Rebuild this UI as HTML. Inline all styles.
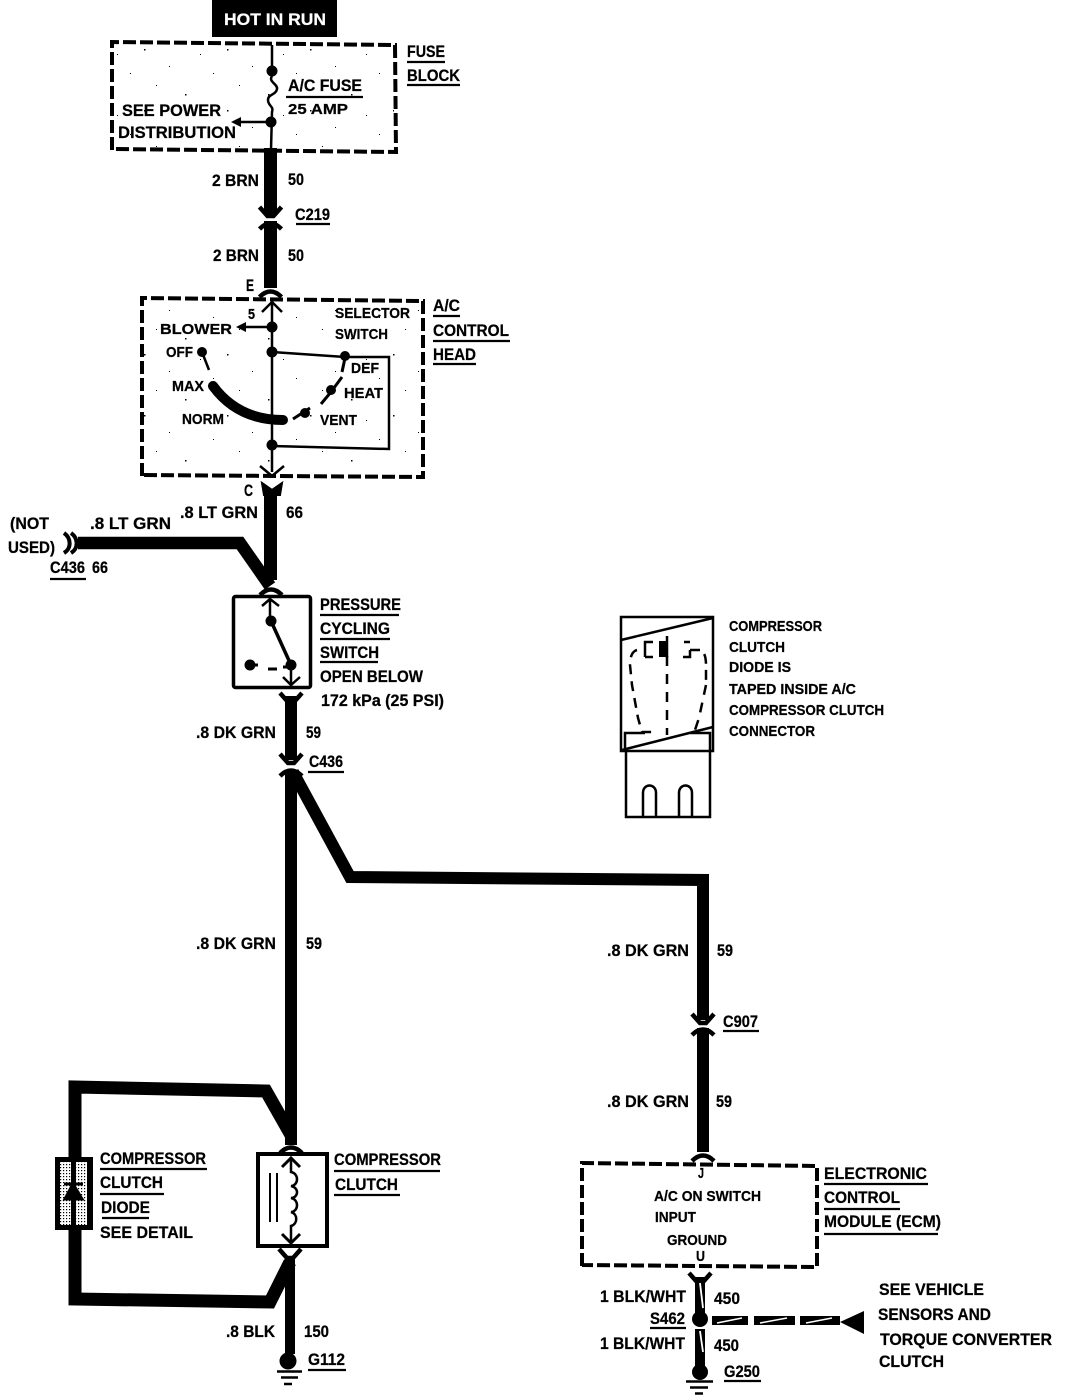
<!DOCTYPE html>
<html><head><meta charset="utf-8"><style>
html,body{margin:0;padding:0;background:#fff}
svg{display:block}
text{font-family:"Liberation Sans",sans-serif;font-weight:700;font-size:17px;fill:#000;stroke:#000;stroke-width:.25}
.s{font-size:15px}
</style></head><body>
<svg width="1072" height="1396" viewBox="0 0 1072 1396" xmlns="http://www.w3.org/2000/svg">
<defs>
<pattern id="st" width="83" height="61" patternUnits="userSpaceOnUse">
<rect x="3" y="5" width="1" height="1"/><rect x="19" y="33" width="1.500" height="1.500"/><rect x="47" y="12" width="1" height="1"/><rect x="61" y="49" width="1.500" height="1.500"/><rect x="73" y="24" width="1" height="1"/><rect x="34" y="54" width="1" height="1"/>
</pattern>
<pattern id="dg" width="3" height="3" patternUnits="userSpaceOnUse"><rect width="3" height="3" fill="#fff"/><rect width="1.200" height="1.200" fill="#000"/></pattern>
<path id="up" d="M-11 5 Q0 -6 11 5" fill="none" stroke="#000" stroke-width="4.500"/>
<path id="dn" d="M-11 -5 L-3 4 L3 4 L11 -5" fill="none" stroke="#000" stroke-width="4.500"/>
</defs>

<rect x="212" y="0" width="125" height="37" fill="#000"/>
<text x="224" y="25" textLength="102" lengthAdjust="spacingAndGlyphs" style="fill:#fff;stroke:#fff">HOT IN RUN</text>

<!-- stipple areas -->
<rect x="113" y="45" width="281" height="105" fill="url(#st)"/>
<rect x="143" y="300" width="279" height="175" fill="url(#st)"/>

<!-- dashed boxes -->
<g fill="none" stroke="#000" stroke-width="4" stroke-dasharray="13 4">
<path d="M112 150 L112 42 L395 45 L396 152 L112 149"/>
<path d="M142 476 L142 298 L423 301 L423 477 L142 475"/>
<path d="M582 1266 L582 1163 L817 1166 L817 1267 L582 1265"/>
</g>

<!-- fuse block internals -->
<g fill="none" stroke="#000" stroke-width="2.500">
<path d="M272 45 V71"/>
<path d="M272 76 C268 82 278 84 277 89 C276 95 268 94 268 100 C268 106 274 106 272 112 L271 150"/>
<path d="M271 122 H236"/>
</g>
<circle cx="272" cy="71" r="5.500"/><circle cx="271" cy="122" r="5.500"/>
<path d="M231 122 L241 117 L241 127 Z"/>

<!-- main wire top -->
<rect x="264" y="148" width="13" height="66"/>
<use href="#dn" x="270.500" y="212"/>
<use href="#up" x="270.500" y="224"/>
<rect x="264" y="221" width="13" height="67"/>
<use href="#up" x="270.500" y="292"/>

<!-- control head -->
<g fill="none" stroke="#000" stroke-width="2.500">
<path d="M272 300 V420"/>
<path d="M262 312 L272 302 L282 312"/>
<path d="M272 327 H240"/>
<path d="M272 352 L345 357 H389 V449 L272 446"/>
<path d="M272 420 V472"/>
<path d="M202 352 L209 370"/>
<path d="M345 358 L342 372 M342 377 L331 392 L321 404 M310 408 L293 419" stroke-width="3"/>
<path d="M260 466 L272 476 L284 466"/>
</g>
<path d="M236 327 L246 322 L246 332 Z"/>
<circle cx="272" cy="327" r="5.500"/><circle cx="272" cy="352" r="5.500"/><circle cx="345" cy="356" r="5"/>
<circle cx="272" cy="445" r="5.500"/><circle cx="202" cy="352" r="5"/><circle cx="331" cy="390" r="5"/><circle cx="305" cy="413" r="5"/>
<path d="M213 386 Q238 420 283 420" fill="none" stroke="#000" stroke-width="10" stroke-linecap="round"/>
<path d="M262 483 L272 490 L282 483 L280 495 H264 Z" stroke="#000" stroke-width="2"/>

<rect x="264" y="490" width="13" height="90"/>
<!-- not used branch -->
<path d="M78 543 H240 L270 586" fill="none" stroke="#000" stroke-width="12.500"/>
<path d="M64 533 C71 538 72 548 64 553 M71 533 C78 538 79 548 71 553" fill="none" stroke="#000" stroke-width="4"/>
<use href="#up" x="271" y="590"/>

<!-- pressure switch -->
<rect x="233.500" y="596.500" width="77" height="91" rx="2" fill="none" stroke="#000" stroke-width="3.500"/>
<g fill="none" stroke="#000" stroke-width="2.500">
<path d="M270 600 V621 M262 606 L270 599 L279 606"/>
<path d="M271 621 L291 665" stroke-width="3.500"/>
<path d="M250 665 H258 M268 669 H277 M283 667 H291" stroke-width="3"/>
<path d="M291 665 V685 M283 677 L291 685 L300 677"/>
</g>
<circle cx="271" cy="621" r="5.500"/><circle cx="291" cy="665" r="5.500"/><circle cx="250" cy="665" r="5.500"/>

<use href="#dn" x="291" y="698"/>
<rect x="285" y="696" width="12" height="64"/>
<use href="#dn" x="291" y="759"/>
<use href="#up" x="291" y="771"/>

<!-- main trunk and branch -->
<rect x="285" y="770" width="12" height="375"/>
<path d="M293 772 L350 877 L703 880 V1020" fill="none" stroke="#000" stroke-width="12"/>
<use href="#dn" x="703" y="1019"/>
<use href="#up" x="703" y="1030"/>
<rect x="697" y="1028" width="12" height="124"/>
<use href="#up" x="703" y="1156"/>

<!-- diode loop -->
<path d="M291 1135 L266 1091 L75 1087 V1299 L270 1302 L290 1262" fill="none" stroke="#000" stroke-width="13"/>
<rect x="56.500" y="1158.500" width="35" height="70" fill="#000" stroke="#000" stroke-width="3"/>
<rect x="60" y="1162" width="11" height="63" fill="url(#dg)"/>
<rect x="76" y="1162" width="11" height="63" fill="url(#dg)"/>
<path d="M64 1184 H83 M73 1184 L65 1199 H82 Z" fill="#000" stroke="#000" stroke-width="3"/>

<!-- clutch -->
<use href="#up" x="291" y="1148"/>
<rect x="258" y="1154" width="69" height="92" fill="none" stroke="#000" stroke-width="4"/>
<g fill="none" stroke="#000" stroke-width="2.500">
<path d="M270 1173 V1222 M277 1173 V1222" stroke-width="2"/>
<path d="M291 1158 V1172 C300 1174 298 1186 291 1186 C300 1188 298 1198 291 1198 C300 1200 298 1212 291 1212 C298 1214 298 1224 291 1226 V1243"/>
<path d="M282 1167 L291 1158 L300 1167 M282 1234 L291 1243 L300 1234" stroke-width="3"/>
</g>
<use href="#dn" x="290" y="1254"/>
<rect x="285" y="1258" width="10" height="96"/>
<circle cx="288" cy="1361" r="8.500"/>
<path d="M277 1371.500 H302 M281 1377.500 H298 M284 1384 H292" stroke="#000" stroke-width="2.500"/>

<!-- ECM lower -->
<use href="#dn" x="700" y="1278"/>
<rect x="695" y="1277" width="10" height="36"/>
<path d="M700 1283 L703 1308" stroke="#fff" stroke-width="1.800"/>
<circle cx="700" cy="1319" r="8"/>
<rect x="695" y="1329" width="10" height="38"/>
<path d="M700 1331 L703 1352" stroke="#fff" stroke-width="1.800"/>
<circle cx="700" cy="1372" r="8"/>
<path d="M686 1381.500 H713 M690 1387.500 H708 M695 1393.500 H703" stroke="#000" stroke-width="2.500"/>
<rect x="712" y="1316" width="36" height="9"/><rect x="754" y="1316" width="41" height="9"/><rect x="800" y="1316" width="40" height="9"/>
<path d="M717 1323 L742 1318 M760 1323 L787 1318 M806 1323 L832 1318" stroke="#fff" stroke-width="1.500"/>
<path d="M840 1322 L864 1311 V1334 Z"/>

<!-- detail drawing -->
<g fill="none" stroke="#000" stroke-width="2.500">
<rect x="621" y="617" width="92" height="134"/>
<path d="M621 640 L713 618 M622 750 L713 727"/>
<path d="M625 751 V733 H645 M690 733 H710 V817 H626 V751"/>
<path d="M643 817 V793 C643 783 656 783 656 793 V817 M679 817 V793 C679 783 692 783 692 793 V817"/>
<path d="M667 656 V735" stroke-dasharray="10 8"/>
<path d="M645 657 V642 H653 M684 642 H690 M683 657 H690 V650 M645 657 H653"/>
<path d="M690 650 H700 Q706 652 706 665 V680" stroke-dasharray="10 6"/>
<path d="M637 650 Q630 652 630 665 L632 685 L638 718 L642 732 H652" stroke-dasharray="10 7"/>
<path d="M706 685 L699 718 L695 730" stroke-dasharray="10 8"/>
</g>
<rect x="659" y="641" width="8" height="16"/>
<path d="M667 636 V658" stroke="#000" stroke-width="2.500"/>

<!-- underlines -->
<path d="M407 62H445 M407 85H460 M286 97H363 M296 224H330 M433 316H460 M433 341H510 M433 364H476 M50 579H86 M320 615H399 M320 639H390 M320 662H378 M308 772H344 M723 1031H759 M100 1169H207 M100 1194H164 M102 1218H149 M334 1171H440 M334 1195H400 M308 1370H346 M824 1184H928 M824 1209H900 M824 1234H938 M650 1328H686 M724 1381H761" stroke="#000" stroke-width="2.200"/>

<!-- labels -->
<text x="407" y="57" textLength="38" lengthAdjust="spacingAndGlyphs">FUSE</text>
<text x="407" y="81" textLength="53" lengthAdjust="spacingAndGlyphs">BLOCK</text>
<text x="288" y="91" textLength="74" lengthAdjust="spacingAndGlyphs">A/C FUSE</text>
<text x="288" y="114" textLength="60" lengthAdjust="spacingAndGlyphs" class="s">25 AMP</text>
<text x="122" y="116" textLength="99" lengthAdjust="spacingAndGlyphs">SEE POWER</text>
<text x="118" y="138" textLength="118" lengthAdjust="spacingAndGlyphs">DISTRIBUTION</text>
<text x="212" y="186" textLength="47" lengthAdjust="spacingAndGlyphs">2 BRN</text>
<text x="288" y="185" textLength="16" lengthAdjust="spacingAndGlyphs">50</text>
<text x="295" y="220" textLength="35" lengthAdjust="spacingAndGlyphs">C219</text>
<text x="213" y="261" textLength="46" lengthAdjust="spacingAndGlyphs">2 BRN</text>
<text x="288" y="261" textLength="16" lengthAdjust="spacingAndGlyphs">50</text>
<text x="246" y="291" textLength="8" lengthAdjust="spacingAndGlyphs">E</text>
<text x="433" y="311" textLength="27" lengthAdjust="spacingAndGlyphs">A/C</text>
<text x="433" y="336" textLength="76" lengthAdjust="spacingAndGlyphs">CONTROL</text>
<text x="433" y="360" textLength="43" lengthAdjust="spacingAndGlyphs">HEAD</text>
<text x="248" y="319" textLength="7" lengthAdjust="spacingAndGlyphs" class="s">5</text>
<text x="160" y="334" textLength="72" lengthAdjust="spacingAndGlyphs" class="s">BLOWER</text>
<text x="335" y="318" textLength="75" lengthAdjust="spacingAndGlyphs" class="s">SELECTOR</text>
<text x="335" y="339" textLength="53" lengthAdjust="spacingAndGlyphs" class="s">SWITCH</text>
<text x="166" y="357" textLength="27" lengthAdjust="spacingAndGlyphs" class="s">OFF</text>
<text x="172" y="391" textLength="32" lengthAdjust="spacingAndGlyphs" class="s">MAX</text>
<text x="182" y="424" textLength="42" lengthAdjust="spacingAndGlyphs" class="s">NORM</text>
<text x="351" y="373" textLength="28" lengthAdjust="spacingAndGlyphs" class="s">DEF</text>
<text x="344" y="398" textLength="39" lengthAdjust="spacingAndGlyphs" class="s">HEAT</text>
<text x="320" y="425" textLength="37" lengthAdjust="spacingAndGlyphs" class="s">VENT</text>
<text x="244" y="496" textLength="9" lengthAdjust="spacingAndGlyphs">C</text>
<text x="10" y="529" textLength="39" lengthAdjust="spacingAndGlyphs">(NOT</text>
<text x="8" y="553" textLength="47" lengthAdjust="spacingAndGlyphs">USED)</text>
<text x="90" y="529" textLength="81" lengthAdjust="spacingAndGlyphs">.8 LT GRN</text>
<text x="180" y="518" textLength="78" lengthAdjust="spacingAndGlyphs">.8 LT GRN</text>
<text x="286" y="518" textLength="17" lengthAdjust="spacingAndGlyphs">66</text>
<text x="50" y="573" textLength="35" lengthAdjust="spacingAndGlyphs">C436</text>
<text x="92" y="573" textLength="16" lengthAdjust="spacingAndGlyphs">66</text>
<text x="320" y="610" textLength="81" lengthAdjust="spacingAndGlyphs">PRESSURE</text>
<text x="320" y="634" textLength="70" lengthAdjust="spacingAndGlyphs">CYCLING</text>
<text x="320" y="658" textLength="59" lengthAdjust="spacingAndGlyphs">SWITCH</text>
<text x="320" y="682" textLength="103" lengthAdjust="spacingAndGlyphs">OPEN BELOW</text>
<text x="321" y="706" textLength="123" lengthAdjust="spacingAndGlyphs">172  kPa  (25 PSI)</text>
<text x="196" y="738" textLength="80" lengthAdjust="spacingAndGlyphs">.8 DK GRN</text>
<text x="306" y="738" textLength="15" lengthAdjust="spacingAndGlyphs">59</text>
<text x="309" y="767" textLength="34" lengthAdjust="spacingAndGlyphs">C436</text>
<text x="196" y="949" textLength="80" lengthAdjust="spacingAndGlyphs">.8 DK GRN</text>
<text x="306" y="949" textLength="16" lengthAdjust="spacingAndGlyphs">59</text>
<text x="607" y="956" textLength="82" lengthAdjust="spacingAndGlyphs">.8 DK GRN</text>
<text x="717" y="956" textLength="16" lengthAdjust="spacingAndGlyphs">59</text>
<text x="723" y="1027" textLength="35" lengthAdjust="spacingAndGlyphs">C907</text>
<text x="607" y="1107" textLength="82" lengthAdjust="spacingAndGlyphs">.8 DK GRN</text>
<text x="716" y="1107" textLength="16" lengthAdjust="spacingAndGlyphs">59</text>
<text x="729" y="631" textLength="93" lengthAdjust="spacingAndGlyphs" class="s">COMPRESSOR</text>
<text x="729" y="652" textLength="56" lengthAdjust="spacingAndGlyphs" class="s">CLUTCH</text>
<text x="729" y="672" textLength="62" lengthAdjust="spacingAndGlyphs" class="s">DIODE IS</text>
<text x="729" y="694" textLength="127" lengthAdjust="spacingAndGlyphs" class="s">TAPED INSIDE A/C</text>
<text x="729" y="715" textLength="155" lengthAdjust="spacingAndGlyphs" class="s">COMPRESSOR CLUTCH</text>
<text x="729" y="736" textLength="86" lengthAdjust="spacingAndGlyphs" class="s">CONNECTOR</text>
<text x="100" y="1164" textLength="106" lengthAdjust="spacingAndGlyphs">COMPRESSOR</text>
<text x="100" y="1188" textLength="63" lengthAdjust="spacingAndGlyphs">CLUTCH</text>
<text x="101" y="1213" textLength="49" lengthAdjust="spacingAndGlyphs">DIODE</text>
<text x="100" y="1238" textLength="93" lengthAdjust="spacingAndGlyphs">SEE DETAIL</text>
<text x="334" y="1165" textLength="107" lengthAdjust="spacingAndGlyphs">COMPRESSOR</text>
<text x="335" y="1190" textLength="63" lengthAdjust="spacingAndGlyphs">CLUTCH</text>
<text x="226" y="1337" textLength="49" lengthAdjust="spacingAndGlyphs">.8 BLK</text>
<text x="304" y="1337" textLength="25" lengthAdjust="spacingAndGlyphs">150</text>
<text x="308" y="1365" textLength="37" lengthAdjust="spacingAndGlyphs">G112</text>
<text x="698" y="1178" textLength="6" lengthAdjust="spacingAndGlyphs" class="s">J</text>
<text x="654" y="1201" textLength="107" lengthAdjust="spacingAndGlyphs" class="s">A/C ON SWITCH</text>
<text x="655" y="1222" textLength="41" lengthAdjust="spacingAndGlyphs" class="s">INPUT</text>
<text x="667" y="1245" textLength="60" lengthAdjust="spacingAndGlyphs" class="s">GROUND</text>
<text x="696" y="1261" textLength="9" lengthAdjust="spacingAndGlyphs" class="s">U</text>
<text x="824" y="1179" textLength="103" lengthAdjust="spacingAndGlyphs">ELECTRONIC</text>
<text x="824" y="1203" textLength="76" lengthAdjust="spacingAndGlyphs">CONTROL</text>
<text x="824" y="1227" textLength="117" lengthAdjust="spacingAndGlyphs">MODULE (ECM)</text>
<text x="600" y="1302" textLength="86" lengthAdjust="spacingAndGlyphs">1 BLK/WHT</text>
<text x="714" y="1304" textLength="26" lengthAdjust="spacingAndGlyphs">450</text>
<text x="650" y="1324" textLength="35" lengthAdjust="spacingAndGlyphs">S462</text>
<text x="600" y="1349" textLength="85" lengthAdjust="spacingAndGlyphs">1 BLK/WHT</text>
<text x="714" y="1351" textLength="25" lengthAdjust="spacingAndGlyphs">450</text>
<text x="724" y="1377" textLength="36" lengthAdjust="spacingAndGlyphs">G250</text>
<text x="879" y="1295" textLength="105" lengthAdjust="spacingAndGlyphs">SEE VEHICLE</text>
<text x="878" y="1320" textLength="113" lengthAdjust="spacingAndGlyphs">SENSORS AND</text>
<text x="880" y="1345" textLength="172" lengthAdjust="spacingAndGlyphs">TORQUE CONVERTER</text>
<text x="879" y="1367" textLength="65" lengthAdjust="spacingAndGlyphs">CLUTCH</text>
</svg>
</body></html>
